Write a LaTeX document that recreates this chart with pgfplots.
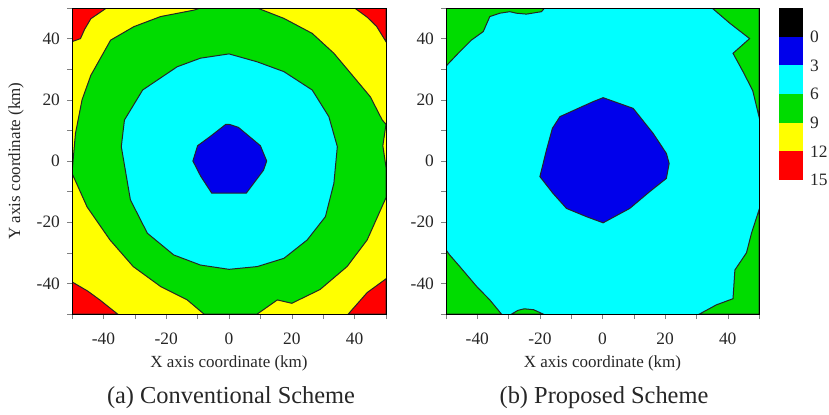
\documentclass[border=0pt]{standalone}
\usepackage{pgfplots}
\pgfplotsset{compat=1.18}
\usepackage{fontspec}
\setmainfont{Liberation Serif}

\definecolor{cR}{RGB}{255,0,0}
\definecolor{cY}{RGB}{255,255,0}
\definecolor{cG}{RGB}{0,220,0}
\definecolor{cC}{RGB}{0,255,255}
\definecolor{cB}{RGB}{0,0,235}

\pgfplotsset{
  region/.style={draw=black!85, line width=0.5pt, fill=#1},
  field/.style={
    anchor=south west, scale only axis,
    width=157pt, height=153pt,
    xmin=-50, xmax=50, ymin=-50, ymax=50,
    xtick={-40,-20,...,40}, ytick={-40,-20,...,40},
    minor xtick={-50,-30,...,50}, minor ytick={-50,-30,...,50},
    tick pos=left, tick align=outside,
    major tick length=2.5pt, minor tick length=2.5pt,
    axis on top,
    /pgf/number format/assume math mode=true,
    tick label style={font=\fontsize{8.7}{10}\selectfont, text=black!85},
    label style={font=\fontsize{8.5}{10}\selectfont, text=black!85},
    xticklabel style={yshift=-3.5pt},
    xlabel={X axis coordinate (km)},
    xlabel style={at={(axis description cs:0.5,-0.16)}, anchor=center},
  },
}

\begin{document}
\begin{tikzpicture}
\path[use as bounding box] (0,0) rectangle (414.5pt,207pt);

% (a) conventional scheme
\begin{axis}[field, at={(36pt,50pt)},
    axis background/.style={fill=cY},
    ylabel={Y axis coordinate (km)},
    ylabel style={at={(axis description cs:-0.178,0.5)}, anchor=center}]
\addplot[region=cR] coordinates {(-50,50)(-39,50)(-44,46.5)(-46,43)(-47.3,40)(-50,39)} --cycle;
\addplot[region=cR] coordinates {(50,50)(40,50)(44,47)(47,44)(50,39)} --cycle;
\addplot[region=cR] coordinates {(-50,-50)(-50,-39.5)(-45,-42.5)(-41,-45.5)(-35.5,-50)} --cycle;
\addplot[region=cR] coordinates {(50,-50)(50,-38.5)(44,-43)(38,-50)} --cycle;
\addplot[region=cG] coordinates {
  (-9,50)(9,50)(17.5,46.6)(26.5,41.7)(33.4,35.2)(39.7,27.5)(45,21)(48.8,13.4)
  (50,12)(49,5)(50,-2)(50,-12)(44,-25.8)(37.6,-34.5)(29,-42)(20,-46.5)(15.4,-45.4)
  (9,-50)(-8,-50)(-13.3,-45.4)(-21.8,-41)(-30.5,-34.5)(-37.9,-25.8)(-45.2,-15)
  (-50,-4)(-49.5,2)(-48.9,9)(-46.8,20)(-44,28)(-37.7,39.5)(-30.3,43.9)(-21.8,47.2)(-11.2,49.3)} --cycle;
\addplot[region=cC] coordinates {
  (0,35)(9,32.4)(17.5,29.2)(26.5,23.2)(31.8,14.5)(34.5,4.7)(33.4,-7.3)(30.7,-18.2)
  (24.9,-25.8)(17.5,-31.8)(9,-34.5)(0,-35.4)(-9.1,-34)(-17.6,-30.7)(-26,-23.6)
  (-31.4,-12.7)(-34.3,4.7)(-33.3,13.4)(-27.5,23.2)(-16.5,30.8)(-9.1,33.6)} --cycle;
\addplot[region=cB] coordinates {
  (0,12)(3,11)(10,5)(12,0)(11,-3)(5.5,-10.5)(-5.5,-10.5)(-9,-5)(-11.5,0)(-10,5)(-6,8)(-1,12)} --cycle;
\end{axis}

% (b) proposed scheme
\begin{axis}[field, at={(223pt,50pt)}, width=156.5pt,
    axis background/.style={fill=cC}]
\addplot[region=cG] coordinates {
  (-50,50)(-18.5,50)(-19.5,48.8)(-24.3,48)(-27.5,48.3)(-29.6,48.8)(-32.8,48.3)
  (-36,47.2)(-38.1,42.3)(-41.9,39.5)(-46.1,35.2)(-50,31)} --cycle;
\addplot[region=cG] coordinates {
  (50,50)(35,50)(40.7,45)(47,40)(41.7,35.2)(45,29)(48,23)(50,14.5)} --cycle;
\addplot[region=cG] coordinates {
  (50,-50)(50,-16)(47.6,-23.6)(46,-30)(42.3,-35.6)(41.7,-45)(36.4,-47)(31,-50)} --cycle;
\addplot[region=cG] coordinates {
  (-50,-50)(-50,-29)(-49,-30.5)(-45.6,-34.5)(-40.2,-41)(-36,-45.4)(-32.3,-50)} --cycle;
\addplot[region=cG] coordinates {
  (-29,-50)(-27,-48.8)(-25,-48.3)(-22,-48.6)(-19,-50)} --cycle;
\addplot[region=cB] coordinates {
  (0.2,20.7)(9.8,17.2)(16.2,9)(20.4,2.5)(21.3,-0.8)(20.4,-5.7)(15.1,-10)(8.7,-15.5)
  (0.2,-20.2)(-5.1,-18.2)(-11.5,-15.5)(-15.8,-10.6)(-20,-5.1)(-17.9,3.6)(-16,10.7)
  (-13.6,14.5)(-6.7,17.7)(-3,19.4)} --cycle;
\end{axis}

% colour scale
\begin{axis}[anchor=south west, at={(389.5pt,117pt)}, scale only axis,
    width=12pt, height=86pt,
    xmin=0, xmax=1, ymin=-3, ymax=15, y dir=reverse,
    xtick=\empty, ytick={0,3,...,15}, ytick pos=right,
    major tick length=0pt, axis line style={draw=none},
    /pgf/number format/assume math mode=true,
    yticklabel style={font=\fontsize{8.7}{10}\selectfont, text=black!85, anchor=west}]
\addplot[fill=black, draw=none] coordinates {(0,-3)(1,-3)(1,0)(0,0)} --cycle;
\addplot[fill=cB, draw=none] coordinates {(0,0)(1,0)(1,3)(0,3)} --cycle;
\addplot[fill=cC, draw=none] coordinates {(0,3)(1,3)(1,6)(0,6)} --cycle;
\addplot[fill=cG, draw=none] coordinates {(0,6)(1,6)(1,9)(0,9)} --cycle;
\addplot[fill=cY, draw=none] coordinates {(0,9)(1,9)(1,12)(0,12)} --cycle;
\addplot[fill=cR, draw=none] coordinates {(0,12)(1,12)(1,15)(0,15)} --cycle;
\end{axis}

\node[font=\fontsize{12.2}{14}\selectfont, text=black!85] at (115.5pt,8pt) {(a) Conventional Scheme};
\node[font=\fontsize{12.2}{14}\selectfont, text=black!85] at (302pt,8pt) {(b) Proposed Scheme};
\end{tikzpicture}
\end{document}
